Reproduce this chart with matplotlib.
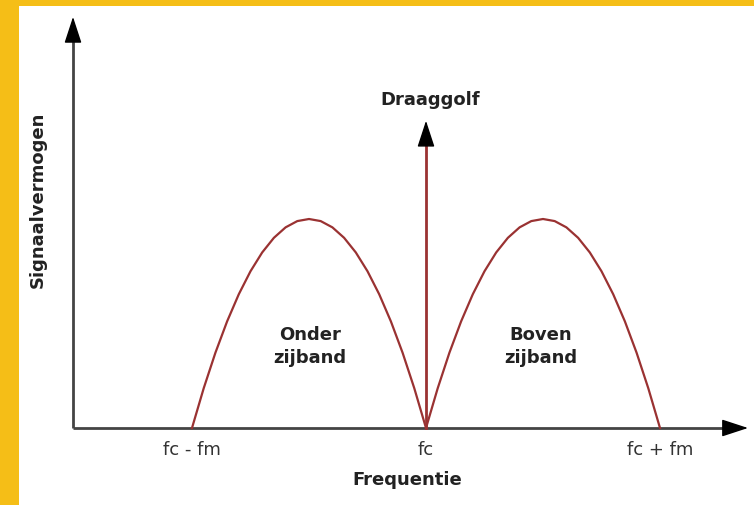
import matplotlib
matplotlib.use("Agg")
import matplotlib.pyplot as plt

# frequency in units of fm around fc, power relative to a sideband peak
tick_pos = [-1.0, 0.0, 1.0]
tick_labels = ["fc - fm", "fc", "fc + fm"]

lower_x = [-1.00, -0.95, -0.90, -0.85, -0.80, -0.75, -0.70, -0.65, -0.60, -0.55, -0.50,
           -0.45, -0.40, -0.35, -0.30, -0.25, -0.20, -0.15, -0.10, -0.05, 0.00]
lower_p = [0.00, 0.19, 0.36, 0.51, 0.64, 0.75, 0.84, 0.91, 0.96, 0.99, 1.00,
           0.99, 0.96, 0.91, 0.84, 0.75, 0.64, 0.51, 0.36, 0.19, 0.00]

upper_x = [0.00, 0.05, 0.10, 0.15, 0.20, 0.25, 0.30, 0.35, 0.40, 0.45, 0.50,
           0.55, 0.60, 0.65, 0.70, 0.75, 0.80, 0.85, 0.90, 0.95, 1.00]
upper_p = [0.00, 0.19, 0.36, 0.51, 0.64, 0.75, 0.84, 0.91, 0.96, 0.99, 1.00,
           0.99, 0.96, 0.91, 0.84, 0.75, 0.64, 0.51, 0.36, 0.19, 0.00]

carrier_f = 0.0
carrier_p = 1.47

red = "#9a3232"
axis_col = "#444444"
txt_col = "#222222"

fig = plt.figure(figsize=(7.54, 5.05), dpi=100)
fig.patch.set_facecolor("#F5BE17")

# white panel inside the yellow frame
ax = fig.add_axes([19 / 754, 0, 735 / 754, 499 / 505])
ax.set_facecolor("white")
ax.set_xlim(-1.7393, 1.4017)
ax.set_ylim(-0.3684, 2.0191)
ax.set_xticks([])
ax.set_yticks([])
for s in ax.spines.values():
    s.set_visible(False)

# axes: grey lines, black heads
head = "-|>,head_length=0.55,head_width=0.18"
x0 = -1.5085
x_tip = 1.376
y_tip = 1.967
ax.plot([x0, x_tip - 0.06], [0, 0], color=axis_col, lw=2.0, solid_capstyle="butt")
ax.plot([x0, x0], [0, y_tip - 0.08], color=axis_col, lw=2.0, solid_capstyle="butt")
ax.annotate("", xy=(x_tip, 0), xytext=(x_tip - 0.08, 0),
            arrowprops=dict(arrowstyle=head, mutation_scale=30, color="black",
                            lw=1.0, shrinkA=0, shrinkB=0))
ax.annotate("", xy=(x0, y_tip), xytext=(x0, y_tip - 0.11),
            arrowprops=dict(arrowstyle=head, mutation_scale=30, color="black",
                            lw=1.0, shrinkA=0, shrinkB=0))

# side bands
ax.plot(lower_x, lower_p, color=red, lw=1.6, solid_joinstyle="round")
ax.plot(upper_x, upper_p, color=red, lw=1.6, solid_joinstyle="round")

# carrier: red line, black arrow head
ax.plot([carrier_f, carrier_f], [0, carrier_p - 0.1], color=red, lw=2.0)
ax.annotate("", xy=(carrier_f, carrier_p), xytext=(carrier_f, carrier_p - 0.11),
            arrowprops=dict(arrowstyle=head, mutation_scale=30, color="black",
                            lw=1.0, shrinkA=0, shrinkB=0))

for x, lab in zip(tick_pos, tick_labels):
    ax.text(x, -0.105, lab, ha="center", va="center", fontsize=13, color="#333333")

ax.text(-0.08, -0.25, "Frequentie", ha="center", va="center", fontsize=13,
        fontweight="bold", color=txt_col)
ax.text(-1.658, 1.09, "Signaalvermogen", ha="center", va="center", fontsize=13,
        fontweight="bold", color=txt_col, rotation=90)
ax.text(0.02, 1.57, "Draaggolf", ha="center", va="center", fontsize=13,
        fontweight="bold", color=txt_col)
ax.text(-0.496, 0.39, "Onder\nzijband", ha="center", va="center", fontsize=13,
        fontweight="bold", color=txt_col, linespacing=1.35)
ax.text(0.491, 0.39, "Boven\nzijband", ha="center", va="center", fontsize=13,
        fontweight="bold", color=txt_col, linespacing=1.35)

fig.savefig("out.png", dpi=100, facecolor=fig.get_facecolor())
